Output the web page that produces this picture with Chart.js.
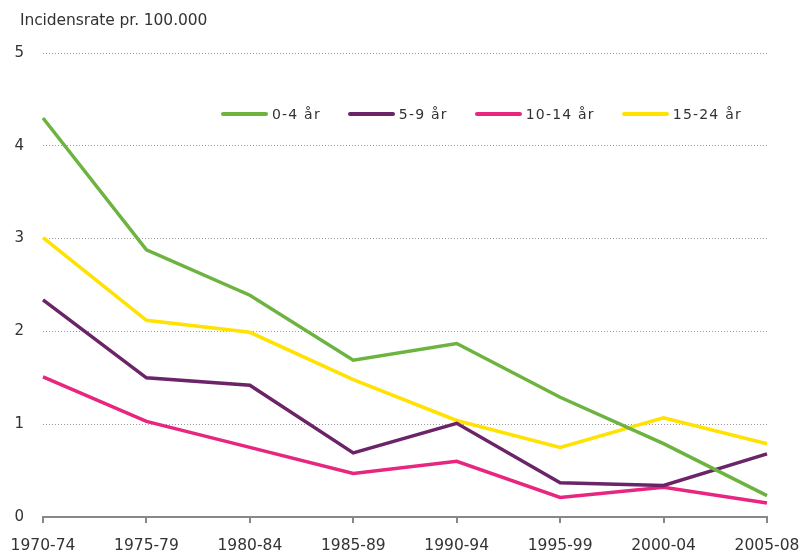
<!DOCTYPE html>
<html>
<head>
<meta charset="utf-8">
<script src="https://cdn.jsdelivr.net/npm/chart.js@4"></script>
<style>
  html, body { margin: 0; padding: 0; background: #fff; }
  #wrap { position: relative; width: 805px; height: 555px; }
  #title { position: absolute; left: 20px; top: 11px; font-family: "DejaVu Sans", sans-serif; font-size: 15.5px; color: #333; letter-spacing: -0.1px; }
  #legend { position: absolute; left: 221px; top: 105px; font-family: "DejaVu Sans", sans-serif; font-size: 14px; color: #333; display: flex; letter-spacing: 1.2px; line-height: 18px; }
  .item { display: flex; align-items: center; margin-right: 27px; }
  .swatch { width: 47px; height: 4px; border-radius: 2px; margin-right: 4px; }
</style>
</head>
<body>
<div id="wrap">
  <canvas id="c" width="805" height="555"></canvas>
  <div id="title">Incidensrate pr. 100.000</div>
  <div id="legend"></div>
</div>
<script>
const categories = ["1970-74","1975-79","1980-84","1985-89","1990-94","1995-99","2000-04","2005-08"];
const age0_4   = [4.30, 2.88, 2.39, 1.69, 1.87, 1.29, 0.79, 0.23];
const age5_9   = [2.34, 1.50, 1.42, 0.69, 1.01, 0.37, 0.34, 0.68];
const age10_14 = [1.51, 1.03, 0.75, 0.47, 0.60, 0.21, 0.32, 0.15];
const age15_24 = [3.01, 2.12, 1.99, 1.48, 1.04, 0.75, 1.07, 0.79];
const seriesLabels = ["0-4 år","5-9 år","10-14 år","15-24 år"];
const yTicks = [0,1,2,3,4,5];

const colors = ["#6db33f","#6b2468","#e8257f","#ffe200"];
const data = [age0_4, age5_9, age10_14, age15_24];

const datasets = data.map((d,i)=>({
  label: seriesLabels[i], data: d, borderColor: colors[i], backgroundColor: colors[i],
  borderWidth: 3.5, pointRadius: 0, tension: 0, fill: false
}));

const leg = document.getElementById('legend');
seriesLabels.forEach((l,i)=>{
  const it = document.createElement('div'); it.className='item';
  const sw = document.createElement('div'); sw.className='swatch'; sw.style.background=colors[i];
  const tx = document.createElement('span'); tx.textContent=l;
  it.appendChild(sw); it.appendChild(tx); leg.appendChild(it);
});

new Chart(document.getElementById('c'), {
  type: 'line',
  data: { labels: categories, datasets },
  options: {
    responsive: false, animation: false,
    layout: { padding: { left: 0, right: 38, top: 53, bottom: 0 } },
    plugins: { legend: { display: false }, tooltip: { enabled: false } },
    scales: {
      x: {
        offset: false,
        grid: { display: true, drawOnChartArea: false, drawTicks: true, tickLength: 6, color: '#888', lineWidth: 2 },
        border: { display: true, color: '#888', width: 2 },
        ticks: { color: '#333', font: { family: '"DejaVu Sans", sans-serif', size: 15.5 }, padding: 14, maxRotation: 0, autoSkip: false },
        afterFit: (s) => { s.height = 38; s.paddingLeft = 0; s.paddingRight = 0; }
      },
      y: {
        min: 0, max: 5,
        afterBuildTicks: (s) => { s.ticks = yTicks.map(v=>({value:v})); },
        grid: { color: (ctx)=> ctx.tick && ctx.tick.value === 0 ? 'rgba(0,0,0,0)' : '#999', lineWidth: 1, drawTicks: false },
        border: { display: false, dash: [1,2] },
        ticks: { color: '#333', font: { family: '"DejaVu Sans", sans-serif', size: 15 }, padding: 19 },
        afterFit: (s) => { s.width = 43; s.paddingTop = 0; s.paddingBottom = 0; }
      }
    }
  }
});
</script>
</body>
</html>
